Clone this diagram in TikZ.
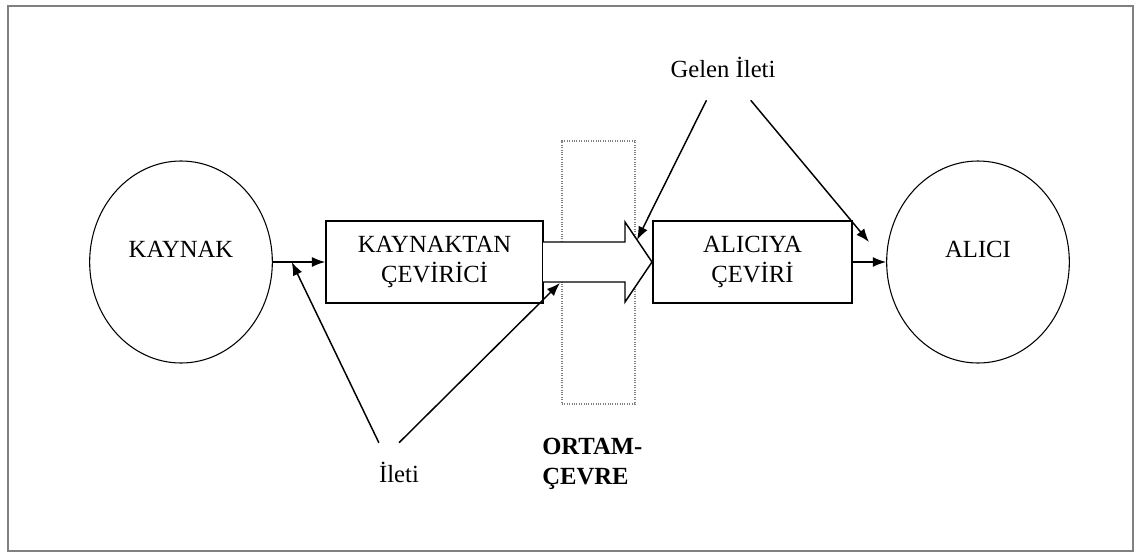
\documentclass[tikz,border=0pt]{standalone}
\usepackage{fontspec}
\setmainfont{Liberation Serif}
\usetikzlibrary{arrows.meta, positioning, shapes.geometric}

\tikzset{
    blok/.style={draw, line width=1.1pt, minimum height=61.5pt, align=center, inner sep=0pt},
    kure/.style={draw, ellipse, line width=0.8pt, minimum width=137pt, minimum height=151.5pt, inner sep=0pt},
    ok/.style={-{Latex[length=10pt,width=7.5pt]}, line width=1.1pt},
    yazi/.style={inner sep=0pt},
}

\begin{document}
\begin{tikzpicture}[x=0.75pt, y=-0.75pt, font=\fontsize{18.5}{22.5}\selectfont]
    \useasboundingbox (0,0) rectangle (1140,554);
    \draw[gray, line width=1.5pt] (8,6) rectangle (1133,551);

    % Kaynak ve alici
    \node[kure] (kaynak) at (181,262) {};
    \node[yazi] (kaynaktxt) at (181,249) {KAYNAK};
    \node[kure] (alici) at (978,262) {};
    \node[yazi] (alicitxt) at (978,249) {ALICI};

    % Ceviriciler
    \node[blok, minimum width=162.75pt] (kaynaktan) at (434.5,262) {KAYNAKTAN\\ÇEVİRİCİ};
    \node[blok, minimum width=149.25pt] (aliciya) at (752.5,262) {ALICIYA\\ÇEVİRİ};

    % Ortam
    \node[draw, densely dotted, gray, line width=0.8pt, minimum width=54.75pt, minimum height=197.25pt] (ortam) at (598.5,272.5) {};
    \node[yazi, font=\fontsize{18.5}{22.5}\selectfont\bfseries, align=left, anchor=west] (ortamtxt) at (542,464) {ORTAM-\\ÇEVRE};

    % Bos ok
    \draw[fill=white, line width=1.1pt] (543,242) -- (625,242) -- (625,222) -- (652,262) -- (625,302) -- (625,282) -- (543,282);
    \coordinate (basust) at (637,240);
    \coordinate (govdealt) at (560,283);
    \coordinate (gelenuc) at (869,242);

    % Iletiler
    \node[yazi, minimum height=49.5pt] (gelen) at (723,67) {Gelen İleti};
    \node[yazi, minimum height=43.5pt] (ileti) at (399,472) {İleti};

    % Oklar
    \draw[ok] (kaynak) -- coordinate[pos=0.36] (kaynakcikis) (kaynaktan);
    \draw[ok] (aliciya) -- (alici);
    \draw[ok] (ileti.north west) -- (kaynakcikis);
    \draw[ok] (ileti.north) -- (govdealt);
    \draw[ok] (gelen) -- (basust);
    \draw[ok] (gelen) -- (gelenuc);
\end{tikzpicture}
\end{document}
